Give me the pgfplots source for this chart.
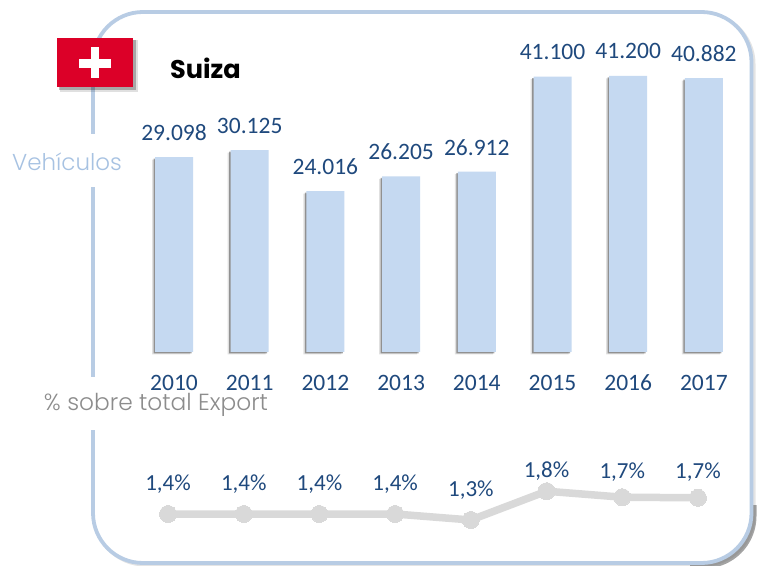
\documentclass[border=0pt]{standalone}
\usepackage{pgfplots}
\pgfplotsset{compat=1.18}
\usepackage{fontspec}
\setmainfont{Carlito}
\newfontfamily\geo{Poppins}
\newfontfamily\geol{Poppins Light}
\usetikzlibrary{shadows}
\definecolor{frameblue}{HTML}{B8CCE4}
\definecolor{barblue}{HTML}{C5D9F1}
\definecolor{navy}{HTML}{1F497D}
\definecolor{flagred}{HTML}{DC0028}
\definecolor{vehblue}{HTML}{A7C2E2}
\definecolor{linegray}{HTML}{D9D9D9}
\begin{document}
\begin{tikzpicture}[x=1pt,y=1pt]
\path[use as bounding box] (0,0) rectangle (757,565);
% frame
\begin{scope}
\clip (0,0) rectangle (757,565);
\draw[gray!70,line width=4pt,opacity=.3,rounded corners=50pt] (95,0.5) rectangle (753.5,551);
\begin{scope}
\clip (690,-2) rectangle (760,60);
\draw[gray!80!black,line width=5pt,opacity=.6,rounded corners=50pt] (95.5,-1) rectangle (754,551);
\end{scope}
\draw[frameblue,line width=3.8pt,fill=white,rounded corners=50pt] (93,2) rectangle (751.5,553);
\end{scope}
\fill[white] (85,378) rectangle (102,431);
\fill[white] (85,135) rectangle (102,188);
% flag
\fill[black,opacity=.12] (60,473) rectangle (138,525);
\fill[black,opacity=.25] (59,475) rectangle (136,525);
\fill[flagred] (57,478) rectangle (133,527);
\fill[white] (79,497) rectangle (111,506);
\fill[white] (91,487) rectangle (99,518);
\node[anchor=west,font=\geo\bfseries\fontsize{25.6}{30}\selectfont,text=black] at (166.5,497) {Suiza};
\node[font=\geol\fontsize{23}{27}\selectfont,text=vehblue] at (67,403) {Vehículos};
\node[font=\geol\fontsize{23.3}{27}\selectfont,text=gray!90] at (156,160) {\% sobre total Export};
% bars
\begin{axis}[
  at={(136.15pt,213pt)},anchor=south west,scale only axis,
  width=605.6pt,height=301.5pt,
  xmin=-0.5,xmax=7.5,ymin=0,ymax=45000,
  clip=false,
  axis line style={draw=none},
  ytick=\empty,
  xtick=data,
  xticklabels={2010,2011,2012,2013,2014,2015,2016,2017},
  xtick style={draw=none},
  xticklabel style={font=\fontsize{23.5}{28}\selectfont,text=navy,anchor=center,yshift=-31pt},
  /pgf/number format/assume math mode=true,
]
\addplot[ybar,bar width=38pt,bar shift=0pt,fill=barblue,draw=none,
  drop shadow={shadow xshift=-3pt,shadow yshift=-2.5pt,opacity=.12,fill=black},
  drop shadow={shadow xshift=-1.5pt,shadow yshift=-1.5pt,opacity=.35,fill=black},
  nodes near coords,
  point meta=y,
  nodes near coords style={font=\fontsize{23.5}{28}\selectfont,text=navy,anchor=center,yshift=24.5pt,
    /pgf/number format/.cd,1000 sep={.},fixed,assume math mode=true},
] coordinates {(0,29098)(1,30125)(2,24016)(3,26205)(4,26912)(5,41100)(6,41200)(7,40882)};
\end{axis}
% line
\begin{axis}[
  at={(130.2pt,27pt)},anchor=south west,scale only axis,
  width=605.6pt,height=60pt,
  xmin=-0.5,xmax=7.5,ymin=1,ymax=2,
  clip=false,axis lines=none,
]
\addplot[linegray,line width=7.5pt,line join=round,mark=*,mark size=8.5pt,
  mark options={fill=linegray,line width=0pt},
  point meta=explicit symbolic,
  nodes near coords,
  nodes near coords style={font=\fontsize{23}{28}\selectfont,text=navy,anchor=center,yshift=30pt},
  coordinate style/.condition={x==5}{yshift=-10pt},
  coordinate style/.condition={x==6}{yshift=-5pt},
  coordinate style/.condition={x==7}{yshift=-4pt},
] table[meta=label] {
x y label
0 1.40 1,4\%
1 1.40 1,4\%
2 1.40 1,4\%
3 1.40 1,4\%
4 1.30 1,3\%
5 1.78 1,8\%
6 1.68 1,7\%
7 1.67 1,7\%
};
\end{axis}
\end{tikzpicture}
\end{document}
